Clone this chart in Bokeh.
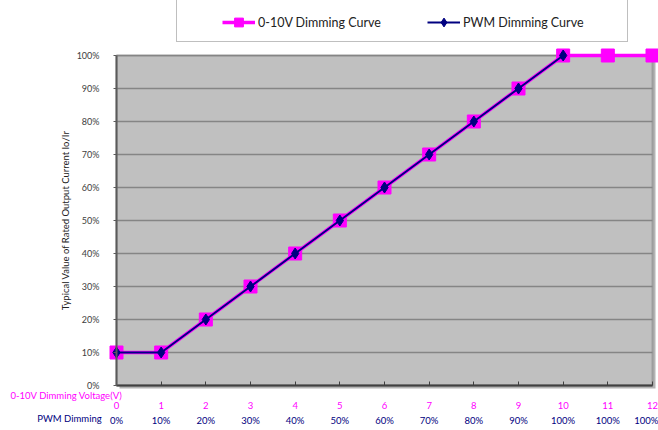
from bokeh.plotting import figure
from bokeh.models import (Range1d, FixedTicker, LinearAxis, PrintfTickFormatter,
                          Legend, LegendItem, Label, BoxAnnotation)
from bokeh.embed import file_html
from bokeh.resources import INLINE

# ---- data ----
voltage = [0, 1, 2, 3, 4, 5, 6, 7, 8, 9, 10, 11, 12]
curve_0_10v = [10, 10, 20, 30, 40, 50, 60, 70, 80, 90, 100, 100, 100]
pwm_x = [0, 1, 2, 3, 4, 5, 6, 7, 8, 9, 10]
pwm_curve = [10, 10, 20, 30, 40, 50, 60, 70, 80, 90, 100]
voltage_labels = ["0", "1", "2", "3", "4", "5", "6", "7", "8", "9", "10", "11", "12"]
pwm_labels = ["0%", "10%", "20%", "30%", "40%", "50%", "60%", "70%", "80%",
              "90%", "100%", "100%", "100%"]
y_ticks = [0, 10, 20, 30, 40, 50, 60, 70, 80, 90, 100]

FONT = "Lato"
MAGENTA = "#ff00ff"
NAVY = "#000080"

# ---- layout (pixels) ----
W, H = 658, 430
PL, PR, PT, PB = 116, 652, 55, 385          # plot-area edges on the canvas
x0, x1 = min(voltage), max(voltage)
y0, y1 = y_ticks[0], y_ticks[-1]
sx = (PR - PL) / (x1 - x0)
sy = (PB - PT) / (y1 - y0)

p = figure(width=W, height=H, output_backend="svg", toolbar_location=None,
           x_range=Range1d(x0 - PL / sx, x1 + (W - PR) / sx),
           y_range=Range1d(y0 - (H - PB) / sy, y1 + PT / sy),
           min_border=0)
p.outline_line_color = None
p.background_fill_color = "white"
p.border_fill_color = "white"

# grey plot area with a soft shadow
shadow = BoxAnnotation(left=x0 + 3 / sx, right=x1 + 3 / sx,
                       bottom=y0 - 3 / sy, top=y1 - 3 / sy,
                       fill_color="#b4b4b4", fill_alpha=1, line_color=None,
                       level="image")
area = BoxAnnotation(left=x0, right=x1, bottom=y0, top=y1,
                     fill_color="#c0c0c0", fill_alpha=1,
                     line_color="#5a5a5a", line_width=2, level="image")
p.add_layout(shadow)
p.add_layout(area)

# grid (horizontal lines only, limited to the plot area)
p.xgrid.grid_line_color = None
yg = p.ygrid[0]
yg.ticker = FixedTicker(ticks=y_ticks)
if "cross_bounds" in yg.properties():
    yg.cross_bounds = (x0, x1)
    yg.grid_line_color = "#858585"
    yg.grid_line_width = 1.5
else:
    yg.grid_line_color = None
    p.segment(x0=[x0] * len(y_ticks), y0=y_ticks, x1=[x1] * len(y_ticks),
              y1=y_ticks, line_color="#858585", line_width=1.5, level="underlay")

# y axis
ya = p.yaxis[0]
ya.fixed_location = x0
ya.bounds = (y0, y1)
ya.ticker = FixedTicker(ticks=y_ticks)
ya.formatter = PrintfTickFormatter(format="%d%%")
ya.axis_label = "Typical Value of Rated Output Current Io/Ir"
ya.axis_label_text_font = FONT
ya.axis_label_text_font_size = "9.5px"
ya.axis_label_text_font_style = "normal"
ya.axis_label_text_color = "#222222"
ya.axis_label_standoff = 3
ya.major_label_text_font = FONT
ya.major_label_text_font_size = "9px"
ya.major_label_text_color = "#404040"
ya.major_label_standoff = 14
ya.axis_line_color = "#5a5a5a"
ya.axis_line_width = 2
ya.major_tick_in = 0
ya.major_tick_out = 3
ya.major_tick_line_color = "#5a5a5a"
ya.minor_tick_line_color = None

# x axis 1: voltage
xa = p.xaxis[0]
xa.fixed_location = y0
xa.bounds = (x0, x1)
xa.ticker = FixedTicker(ticks=voltage)
xa.major_label_overrides = {v: s for v, s in zip(voltage, voltage_labels)}
xa.major_label_text_font = FONT
xa.major_label_text_font_size = "9.5px"
xa.major_label_text_color = MAGENTA
xa.major_label_standoff = 16
xa.axis_line_color = "#404040"
xa.axis_line_width = 2
xa.major_tick_in = 4
xa.major_tick_out = 0
xa.major_tick_line_color = "#404040"
xa.minor_tick_line_color = None

# x axis 2: PWM
xa2 = LinearAxis(ticker=FixedTicker(ticks=voltage), fixed_location=y0,
                 bounds=(x0, x1))
xa2.major_label_overrides = {v: s for v, s in zip(voltage, pwm_labels)}
xa2.major_label_text_font = FONT
xa2.major_label_text_font_size = "9.5px"
xa2.major_label_text_color = NAVY
xa2.major_label_standoff = 29
xa2.major_tick_in = 0
xa2.major_tick_out = 0
xa2.axis_line_color = None
xa2.major_tick_line_color = None
xa2.minor_tick_line_color = None
p.add_layout(xa2, "below")

# data
l1 = p.line(voltage, curve_0_10v, line_color=MAGENTA, line_width=3.5)
s1 = p.scatter(voltage, curve_0_10v, marker="square", size=13,
               fill_color=MAGENTA, line_color=MAGENTA)
l2 = p.line(pwm_x, pwm_curve, line_color=NAVY, line_width=2)
s2 = p.scatter(pwm_x, pwm_curve, marker="diamond", size=11,
               fill_color=NAVY, line_color=NAVY)
dummy = p.line([], [], line_alpha=0)

# legend box
box = Legend(items=[LegendItem(label=" ", renderers=[dummy])],
             location=(176, H - 42), padding=0, margin=0, glyph_width=450,
             glyph_height=41, label_width=0, label_standoff=0,
             border_line_color="#808080", border_line_width=1.5,
             background_fill_color="white", background_fill_alpha=1)
p.add_layout(box, "center")

leg_kw = dict(padding=0, margin=0, glyph_width=33, glyph_height=22,
              label_standoff=3, label_text_font=FONT,
              label_text_font_size="12.5px", label_text_color="#222222",
              border_line_color=None, background_fill_alpha=0)
leg_a = Legend(items=[LegendItem(label="0-10V Dimming Curve", renderers=[l1, s1])],
               location=(222, H - 33), **leg_kw)
leg_b = Legend(items=[LegendItem(label="PWM Dimming Curve", renderers=[l2, s2])],
               location=(427, H - 33), **leg_kw)
p.add_layout(leg_a, "center")
p.add_layout(leg_b, "center")

# row captions
lab1 = Label(x=66, y=H - 395, x_units="screen", y_units="screen",
             text="0-10V Dimming Voltage(V)", text_align="center",
             text_baseline="middle", text_font=FONT, text_font_size="9.5px",
             text_color=MAGENTA)
lab2 = Label(x=69, y=H - 418, x_units="screen", y_units="screen",
             text="PWM Dimming", text_align="center",
             text_baseline="middle", text_font=FONT, text_font_size="9.5px",
             text_color=NAVY)
p.add_layout(lab1)
p.add_layout(lab2)

open("out.html", "w").write(file_html(p, INLINE))
